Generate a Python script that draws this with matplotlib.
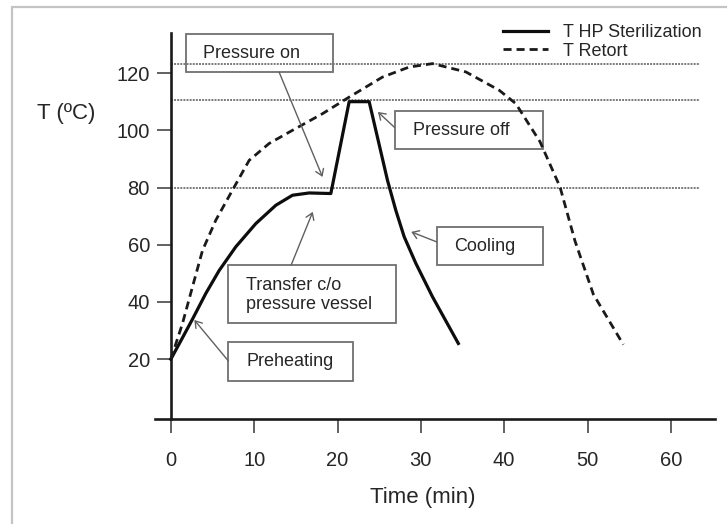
import matplotlib
matplotlib.use('Agg')
import matplotlib.pyplot as plt
from matplotlib.patches import Rectangle

plt.rcParams['font.family'] = ['Liberation Sans', 'DejaVu Sans']

# ---- data ----
time_hp = [0, 1.4, 2.6, 4.2, 5.8, 7.8, 10.2, 12.6, 14.6, 16.6, 19.2, 21.4, 23.8,
           26.0, 27.0, 28.0, 29.4, 31.4, 34.5]
temp_hp = [20, 27.5, 34, 43, 51, 59.3, 67.4, 73.8, 77.3, 78.1, 77.9, 110, 110,
           82.5, 72, 62.8, 53.5, 41.8, 25.5]
time_retort = [0, 1.4, 2.6, 3.8, 5.4, 7.4, 9.4, 11.8, 14.6, 18.2, 21.4, 25.4, 28.6,
               31.4, 35.4, 39.4, 41.4, 44.3, 46.7, 48.5, 50.7, 54.3]
temp_retort = [20, 32.5, 45.3, 58, 68.6, 79.1, 89.5, 95.4, 100, 105.8, 111.6, 118.6,
               122.1, 123.3, 120.4, 114, 109.3, 96, 80.2, 61.3, 42.7, 25.1]
ref_levels = [80, 110.5, 123]
x_ticks = [0, 10, 20, 30, 40, 50, 60]
y_ticks = [20, 40, 60, 80, 100, 120]
series_labels = ['T HP Sterilization', 'T Retort']

TXT = '#262626'
W, H = 727, 524
fig = plt.figure(figsize=(W / 100, H / 100), dpi=100)
ax = fig.add_axes([155 / W, (H - 419) / H, 560 / W, 386 / H])
ax.set_xlim(-1.9, 65.3)
ax.set_ylim(-0.9, 134)

# figure frame
fig.patches.append(Rectangle((12 / W, -0.1), 1.2, 1 - 7 / H + 0.1, transform=fig.transFigure,
                             fill=False, edgecolor='#c4c4c4', lw=1.6))

# spines
for s in ['top', 'right']:
    ax.spines[s].set_visible(False)
ax.spines['left'].set_position(('data', 0))
for s in ['left', 'bottom']:
    ax.spines[s].set_color('#1a1a1a')
    ax.spines[s].set_linewidth(1.9)

ax.set_xticks(x_ticks)
ax.set_yticks(y_ticks)
ax.tick_params(axis='both', direction='out', length=10, width=1.3, color='#555555',
               labelsize=14.5, labelcolor=TXT)
ax.tick_params(axis='x', pad=13)
ax.tick_params(axis='y', pad=5)

# reference lines
ax.hlines(ref_levels, 0, 63.5, colors='#7a7a7a', linestyles=(0, (1, 0.6)), lw=1.4, zorder=1.5)

# curves
l1, = ax.plot(time_hp, temp_hp, color='#0d0d0d', lw=2.3, zorder=3,
              solid_joinstyle='round', label=series_labels[0])
l2, = ax.plot(time_retort, temp_retort, color='#1a1a1a', lw=2.0, ls=(0, (2.9, 1.8)),
              zorder=3, label=series_labels[1])

# legend
leg = ax.legend(handles=[l1, l2], loc='upper left', bbox_to_anchor=(503 / W, 1 - 24 / H),
                bbox_transform=fig.transFigure, frameon=False, fontsize=13,
                handlelength=2.5, handletextpad=0.8, labelspacing=0.1, borderpad=0,
                borderaxespad=0)
for t in leg.get_texts():
    t.set_color(TXT)

# axis labels
fig.text(37 / W, 1 - 114 / H, 'T (ºC)', ha='left', va='center', fontsize=16, color=TXT)
fig.text(423 / W, 1 - 498 / H, 'Time (min)', ha='center', va='center', fontsize=16,
         color=TXT)

# annotation boxes
box_kw = dict(facecolor='white', edgecolor='#707070', lw=1.3, zorder=1, clip_on=False)
txt_kw = dict(ha='left', va='center', fontsize=13, color=TXT, zorder=4)
arr_kw = dict(arrowstyle='->,head_length=0.45,head_width=0.3', color='#606060', lw=1.0,
              shrinkA=0, shrinkB=0)

def box(x0, x1, y0, y1):
    ax.add_patch(Rectangle((x0, y0), x1 - x0, y1 - y0, **box_kw))

def arrow(xs, ys, xt, yt):
    ax.annotate('', xy=(xt, yt), xytext=(xs, ys), arrowprops=arr_kw, zorder=4,
                annotation_clip=False)

box(1.86, 19.5, 120.2, 133.7)
ax.text(3.9, 126.7, 'Pressure on', **txt_kw)
arrow(13.0, 120.3, 18.2, 83.7)

box(26.85, 44.6, 93.4, 106.7)
ax.text(29.05, 100, 'Pressure off', **txt_kw)
arrow(26.85, 101.0, 24.85, 106.4)

box(31.9, 44.7, 52.9, 66.2)
ax.text(34.05, 59.3, 'Cooling', **txt_kw)
arrow(31.9, 61.0, 28.85, 64.5)

box(6.82, 27.05, 32.5, 52.9)
ax.text(9.03, 42.4, 'Transfer c/o\npressure vessel', linespacing=1.1, **txt_kw)
arrow(14.44, 52.9, 17.03, 71.5)

box(6.9, 21.9, 12.4, 25.9)
ax.text(9.03, 19.1, 'Preheating', **txt_kw)
arrow(6.9, 19.4, 2.82, 33.7)

fig.savefig('out.png', dpi=100)
